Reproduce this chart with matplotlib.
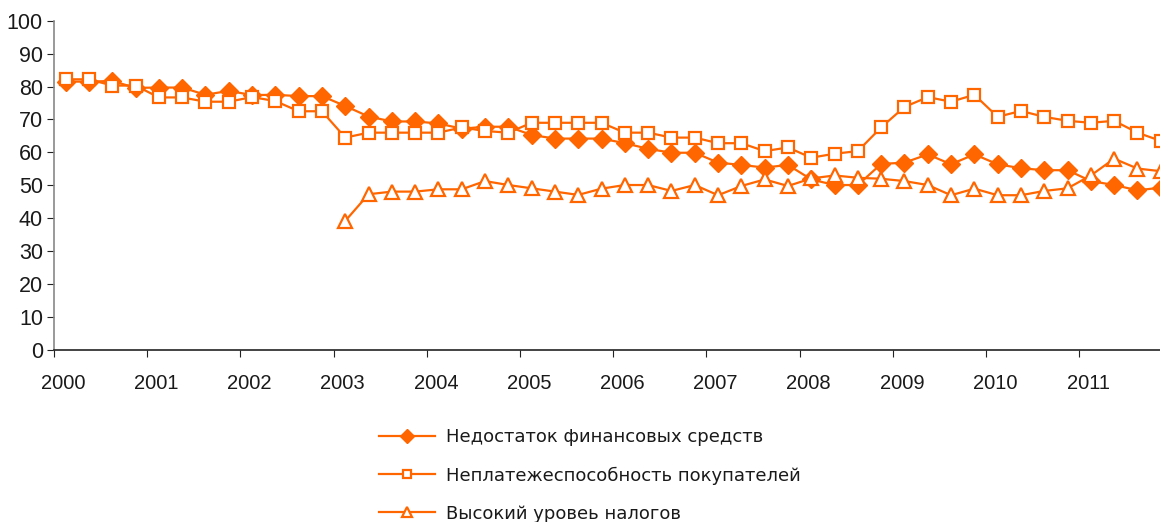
import matplotlib
matplotlib.use("Agg")
import matplotlib.pyplot as plt
import numpy as np

years = list(range(2000, 2012))
quarters_per_year = 4

fin_means = [81.5, 81.5, 81.7, 79.6, 79.7, 79.7, 77.5, 78.7,
             77.4, 77.5, 77.1, 77.1, 74.1, 70.9, 69.4, 69.4,
             68.8, 67.2, 67.8, 67.8, 65.3, 64.2, 64.2, 64.2,
             62.8, 61.1, 59.9, 59.9, 56.9, 56.2, 55.4, 56.2,
             51.8, 50.1, 50.1, 56.5, 56.9, 59.4, 56.4, 59.4,
             56.4, 55.2, 54.6, 54.6, 51.3, 50.1, 48.5, 49.3]

insolvency = [82.2, 82.2, 80.3, 80.3, 76.7, 76.7, 75.4, 75.4,
              76.8, 75.6, 72.5, 72.5, 64.5, 66.0, 66.0, 66.0,
              66.0, 67.6, 66.5, 66.0, 69.0, 69.0, 69.0, 69.0,
              66.0, 66.0, 64.5, 64.5, 62.8, 62.8, 60.4, 61.5,
              58.4, 59.6, 60.4, 67.6, 73.8, 76.8, 75.4, 77.5,
              70.8, 72.6, 70.8, 69.6, 69.0, 69.6, 66.0, 63.5]

taxes = [None] * 12 + [39.2, 47.3, 48.1, 48.1,
                       48.8, 48.8, 51.3, 50.1, 49.1, 48.1, 47.1, 49.0,
                       50.1, 50.1, 48.3, 50.1, 47.0, 49.8, 51.8, 49.8,
                       52.1, 53.0, 52.3, 52.0, 51.3, 50.1, 47.0, 49.0,
                       47.0, 47.0, 48.3, 49.1, 53.0, 58.1, 55.1, 54.3]

labels = ["Недостаток финансовых средств",
          "Неплатежеспособность покупателей",
          "Высокий уровеь налогов"]

n = len(fin_means)
x = np.array([years[0] + (i + 0.5) / quarters_per_year for i in range(n)])
tax_arr = np.array([np.nan if v is None else v for v in taxes], dtype=float)

orange = "#FF6600"
plt.rcParams['font.family'] = ['Liberation Sans', 'DejaVu Sans']

fig = plt.figure(figsize=(11.6, 5.22), dpi=100)
ax = fig.add_axes([54/1160, 1 - 350/522, 1 - 54/1160, (350 - 20.7)/522])

ax.plot(x, fin_means, color=orange, lw=1.6, marker='D', ms=9,
        mfc=orange, mec=orange, label=labels[0], zorder=3)
ax.plot(x, insolvency, color=orange, lw=1.6, marker='s', ms=8.5,
        mfc='white', mec=orange, mew=1.6, label=labels[1], zorder=4)
ax.plot(x, tax_arr, color=orange, lw=1.6, marker='^', ms=9.5,
        mfc='white', mec=orange, mew=1.6, label=labels[2], zorder=5)

ax.set_ylim(0, 100)
ax.set_yticks(range(0, 101, 10))
ax.set_xlim(2000, 2000 + (1160 - 54) / 93.2)
ax.set_xticks(years)
ax.set_xticklabels([])
ax.set_xticks([y + 0.097 for y in years], minor=True)
ax.set_xticklabels([str(y) for y in years], minor=True)
ax.tick_params(axis='x', which='minor', length=0, pad=17, labelsize=14.5)
ax.tick_params(axis='x', which='major', length=5, direction='out', color='#222222')
ax.tick_params(axis='y', length=5, direction='out', labelsize=15.5, color='#222222', pad=3)
for s in ['top', 'right']:
    ax.spines[s].set_visible(False)
for s in ['left', 'bottom']:
    ax.spines[s].set_color('#222222')
    ax.spines[s].set_linewidth(1.2)
ax.spines['left'].set_color('#888888')

for lab in ax.get_yticklabels() + ax.get_xticklabels(minor=True):
    lab.set_color('#1a1a1a')

h, l = ax.get_legend_handles_labels()
leg = fig.legend(h, l, loc='upper left', bbox_to_anchor=(372/1160, 1 - 421/522),
                 frameon=False, handlelength=3.1, handletextpad=0.6,
                 labelspacing=1.11, markerscale=0.75, borderaxespad=0,
                 prop={'family': ['DejaVu Sans'], 'size': 13})
for t in leg.get_texts():
    t.set_color('#1a1a1a')

fig.savefig("out.png", dpi=100)
